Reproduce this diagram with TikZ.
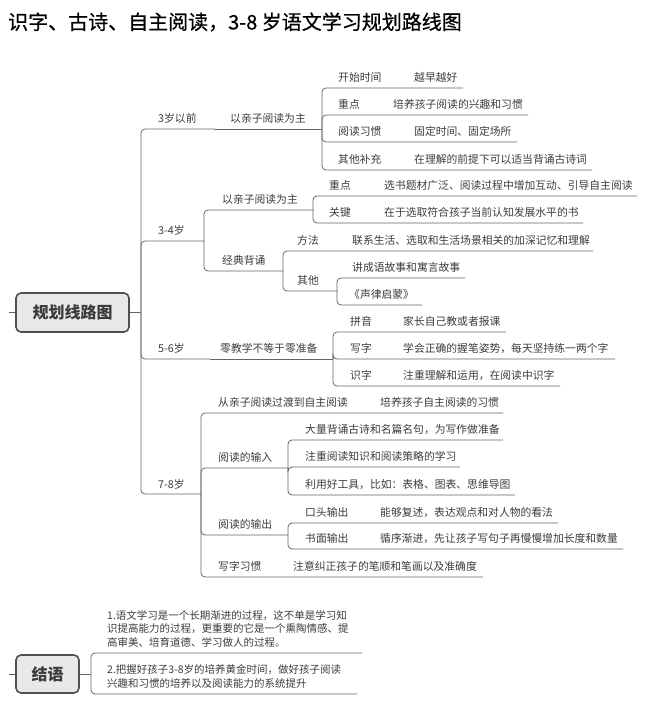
\documentclass[tikz,border=0pt]{standalone}
\usepackage{fontspec}
\newfontfamily\cjk{Noto Sans CJK SC}
\newfontfamily\cjktitle[FakeBold=0.6]{Noto Sans CJK SC}
\definecolor{lnc}{RGB}{100,100,100}
\definecolor{txc}{RGB}{60,60,60}
\definecolor{boxfill}{RGB}{232,232,232}
\definecolor{boxdraw}{RGB}{80,80,80}
\begin{document}
\begin{tikzpicture}[x=1pt,y=-1pt,
  ln/.style={draw=lnc,line width=0.8pt,rounded corners=4pt},
  tx/.style={anchor=west,inner sep=0pt,font=\cjk\fontsize{10.8}{13}\selectfont,text=txc},
  para/.style={anchor=west,inner sep=0pt,align=left,font=\cjk\fontsize{10.5}{13.5}\selectfont,text=txc},
  rootbox/.style={draw=boxdraw,line width=1.6pt,fill=boxfill,rounded corners=5pt,
    font=\cjk\bfseries\fontsize{16}{18}\selectfont,text=txc,inner sep=0pt}]
\useasboundingbox (0,0) rectangle (648,706);

% title
\node[anchor=west,inner sep=0pt,font=\cjktitle\fontsize{20}{24}\selectfont] (title) at (8,22) {识字、古诗、自主阅读，3-8 岁语文学习规划路线图};

% root
\node[rootbox,minimum width=113pt,minimum height=39pt] (root) at (72.5,312.5) {规划线路图};
\coordinate (rootL) at (9,312.5);
\draw[ln] (rootL) -- (root.west);
\coordinate (trunk) at (141,312.5);
\draw[ln] (root.east) -- (trunk);

% ---------- 3岁以前
\coordinate (aE) at (215,129);
\coordinate (a1E) at (322,129);
\draw[ln] (trunk) |- (aE);
\draw[ln] (aE) -- (a1E);
\node[tx] (a) at (158,118.5) {3岁以前};
\node[tx] (a1) at (230,118.5) {以亲子阅读为主};
\coordinate (a11E) at (463,88);
\coordinate (a12E) at (528,115);
\coordinate (a13E) at (517,142);
\coordinate (a14E) at (592,170);
\draw[ln] (a1E) |- (a11E);
\draw[ln] (a1E) |- (a12E);
\draw[ln] (a1E) |- (a13E);
\draw[ln] (a1E) |- (a14E);
\node[tx] (a11) at (338,77.5) {开始时间};
\node[tx] (a11v) at (414,77.5) {越早越好};
\node[tx] (a12) at (338,104.5) {重点};
\node[tx] (a12v) at (393,104.5) {培养孩子阅读的兴趣和习惯};
\node[tx] (a13) at (338,131.5) {阅读习惯};
\node[tx] (a13v) at (414,131.5) {固定时间、固定场所};
\node[tx] (a14) at (338,159.5) {其他补充};
\node[tx] (a14v) at (414,159.5) {在理解的前提下可以适当背诵古诗词};

% ---------- 3-4岁
\coordinate (bE) at (204,241);
\draw[ln] (trunk) |- (bE);
\node[tx] (b) at (158,230.5) {3-4岁};
\coordinate (b1E) at (313,210);
\coordinate (b2E) at (283,271);
\draw[ln] (bE) |- (b1E);
\draw[ln] (bE) |- (b2E);
\node[tx] (b1) at (222,199.5) {以亲子阅读为主};
\node[tx] (b2) at (222,260.5) {经典背诵};
\coordinate (b11E) at (637,196);
\coordinate (b12E) at (583,223);
\draw[ln] (b1E) |- (b11E);
\draw[ln] (b1E) |- (b12E);
\node[tx] (b11) at (329,185.5) {重点};
\node[tx] (b11v) at (384,185.5) {选书题材广泛、阅读过程中增加互动、引导自主阅读};
\node[tx] (b12) at (329,212.5) {关键};
\node[tx] (b12v) at (384,212.5) {在于选取符合孩子当前认知发展水平的书};
\coordinate (b21E) at (593,251);
\coordinate (b22E) at (337,291);
\draw[ln] (b2E) |- (b21E);
\draw[ln] (b2E) |- (b22E);
\node[tx] (b21) at (297,240.5) {方法};
\node[tx] (b21v) at (352,240.5) {联系生活、选取和生活场景相关的加深记忆和理解};
\node[tx] (b22) at (297,280.5) {其他};
\coordinate (b221E) at (465,278);
\coordinate (b222E) at (422,305);
\draw[ln] (b22E) |- (b221E);
\draw[ln] (b22E) |- (b222E);
\node[tx] (b221) at (352,267.5) {讲成语故事和寓言故事};
\node[tx] (b222) at (349,294.5) {《声律启蒙》};

% ---------- 5-6岁
\coordinate (cE) at (210,359);
\coordinate (c1E) at (333,359);
\draw[ln] (trunk) |- (cE);
\draw[ln] (cE) -- (c1E);
\node[tx] (c) at (158,348.5) {5-6岁};
\node[tx] (c1) at (220,348.5) {零教学不等于零准备};
\coordinate (c11E) at (506,332);
\coordinate (c12E) at (615,359);
\coordinate (c13E) at (560,386);
\draw[ln] (c1E) |- (c11E);
\draw[ln] (c1E) |- (c12E);
\draw[ln] (c1E) |- (c13E);
\node[tx] (c11) at (350,321.5) {拼音};
\node[tx] (c11v) at (403,321.5) {家长自己教或者报课};
\node[tx] (c12) at (350,348.5) {写字};
\node[tx] (c12v) at (403,348.5) {学会正确的握笔姿势，每天坚持练一两个字};
\node[tx] (c13) at (350,375.5) {识字};
\node[tx] (c13v) at (403,375.5) {注重理解和运用，在阅读中识字};

% ---------- 7-8岁
\coordinate (dE) at (201,494);
\draw[ln] (trunk) |- (dE);
\node[tx] (d) at (158,484) {7-8岁};
\coordinate (d1E) at (503,413);
\coordinate (d2E) at (288,468);
\coordinate (d3E) at (288,535);
\coordinate (d4E) at (483,577);
\draw[ln] (dE) |- (d1E);
\draw[ln] (dE) |- (d2E);
\draw[ln] (dE) |- (d3E);
\draw[ln] (dE) |- (d4E);
\node[tx] (d1) at (218,402.5) {从亲子阅读过渡到自主阅读};
\node[tx] (d1v) at (380,402.5) {培养孩子自主阅读的习惯};
\node[tx] (d2) at (218,457.5) {阅读的输入};
\node[tx] (d3) at (218,524.5) {阅读的输出};
\node[tx] (d4) at (218,566.5) {写字习惯};
\node[tx] (d4v) at (293,566.5) {注意纠正孩子的笔顺和笔画以及准确度};
\coordinate (d21E) at (503,440);
\coordinate (d22E) at (460,467);
\coordinate (d23E) at (515,495);
\draw[ln] (d2E) |- (d21E);
\draw[ln] (d2E) |- (d22E);
\draw[ln] (d2E) |- (d23E);
\node[tx] (d21) at (305,429.5) {大量背诵古诗和名篇名句，为写作做准备};
\node[tx] (d22) at (305,456.5) {注重阅读知识和阅读策略的学习};
\node[tx] (d23) at (305,484.5) {利用好工具，比如：表格、图表、思维导图};
\coordinate (d31E) at (558,523);
\coordinate (d32E) at (623,549);
\draw[ln] (d3E) |- (d31E);
\draw[ln] (d3E) |- (d32E);
\node[tx] (d31) at (305,512.5) {口头输出};
\node[tx] (d31v) at (380,512.5) {能够复述，表达观点和对人物的看法};
\node[tx] (d32) at (305,538.5) {书面输出};
\node[tx] (d32v) at (380,538.5) {循序渐进，先让孩子写句子再慢慢增加长度和数量};

% ---------- 结语
\node[rootbox,minimum width=63pt,minimum height=38pt] (end) at (47.5,674) {结语};
\coordinate (endL) at (9,674);
\draw[ln] (endL) -- (end.west);
\coordinate (endB) at (91,674);
\draw[ln] (end.east) -- (endB);
\coordinate (e1E) at (362,653);
\coordinate (e2E) at (357,694);
\draw[ln] (endB) |- (e1E);
\draw[ln] (endB) |- (e2E);
\node[para] (e1) at (107,628.5) {1.语文学习是一个长期渐进的过程，这不单是学习知\\识提高能力的过程，更重要的它是一个熏陶情感、提\\高审美、培育道德、学习做人的过程。};
\node[para] (e2) at (107,676.5) {2.把握好孩子3-8岁的培养黄金时间，做好孩子阅读\\兴趣和习惯的培养以及阅读能力的系统提升};
\end{tikzpicture}
\end{document}
